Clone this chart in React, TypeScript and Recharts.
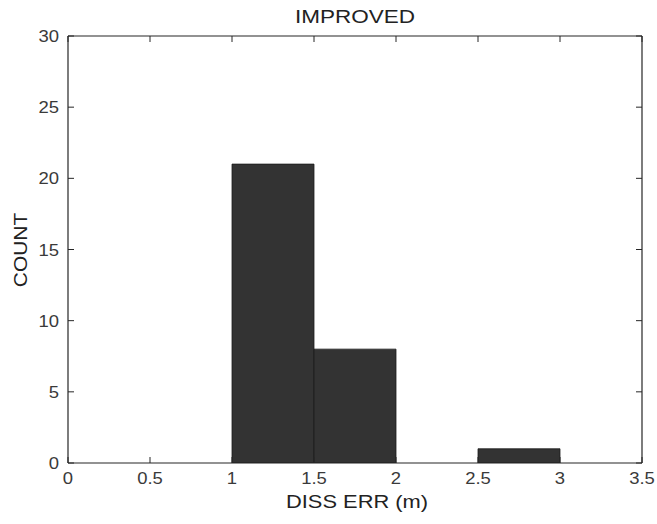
import React from "react";
import { BarChart, Bar, XAxis, YAxis } from "recharts";

// histogram bins of 0.5 m
const binLabels = ["0-0.5", "0.5-1", "1-1.5", "1.5-2", "2-2.5", "2.5-3", "3-3.5"];
const binMids = [0.25, 0.75, 1.25, 1.75, 2.25, 2.75, 3.25];
const counts = [0, 0, 21, 8, 0, 1, 0];

const xTicks = [0, 0.5, 1, 1.5, 2, 2.5, 3, 3.5];
const yTicks = [0, 5, 10, 15, 20, 25, 30];

const data = binLabels.map((bin, i) => ({ bin, mid: binMids[i], count: counts[i] }));

const AXIS = "#262626";
const TEXT = "#3a3a3a";
const FONT = "'Liberation Sans', Arial, sans-serif";

const BottomTick = (p: any) => (
  <g>
    <line x1={p.x} y1={p.y} x2={p.x} y2={p.y - 6} stroke={AXIS} strokeWidth={1} />
    <text
      transform={`translate(${p.x},${p.y + 21}) scale(1.12,1)`}
      textAnchor="middle"
      fontSize={16.5}
      fontFamily={FONT}
      fill={TEXT}
    >
      {p.payload.value}
    </text>
  </g>
);

const LeftTick = (p: any) => (
  <g>
    <line x1={p.x} y1={p.y} x2={p.x + 6} y2={p.y} stroke={AXIS} strokeWidth={1} />
    <text
      transform={`translate(${p.x - 9},${p.y + 6}) scale(1.12,1)`}
      textAnchor="end"
      fontSize={16.5}
      fontFamily={FONT}
      fill={TEXT}
    >
      {p.payload.value}
    </text>
  </g>
);

const TopTick = (p: any) => (
  <line x1={p.x} y1={p.y} x2={p.x} y2={p.y + 6} stroke={AXIS} strokeWidth={1} />
);

const RightTick = (p: any) => (
  <line x1={p.x} y1={p.y} x2={p.x - 6} y2={p.y} stroke={AXIS} strokeWidth={1} />
);

export default function App() {
  return (
    <div style={{ position: "absolute", left: 0, top: 0, width: 657, height: 524, background: "#fff" }}>
      <BarChart
        width={657}
        height={524}
        data={data}
        margin={{ top: 35, right: 14, bottom: 0, left: 0 }}
        barCategoryGap={0}
        barGap={0}
      >
        <XAxis xAxisId="bins" dataKey="bin" hide height={0} />
        <XAxis
          xAxisId="num"
          dataKey="mid"
          type="number"
          domain={[0, 3.5]}
          ticks={xTicks}
          allowDataOverflow
          height={61}
          tickSize={0}
          tickMargin={0}
          tickLine={false}
          axisLine={{ stroke: AXIS, strokeWidth: 1.2 }}
          tick={BottomTick}
          interval={0}
        />
        <XAxis
          xAxisId="top"
          dataKey="mid"
          type="number"
          orientation="top"
          domain={[0, 3.5]}
          ticks={xTicks}
          allowDataOverflow
          height={1}
          tickSize={0}
          tickMargin={0}
          tickLine={false}
          axisLine={{ stroke: AXIS, strokeWidth: 1.2 }}
          tick={TopTick}
          interval={0}
        />
        <YAxis
          yAxisId="left"
          domain={[0, 30]}
          ticks={yTicks}
          allowDataOverflow
          width={68}
          tickSize={0}
          tickMargin={0}
          tickLine={false}
          axisLine={{ stroke: AXIS, strokeWidth: 1.2 }}
          tick={LeftTick}
          interval={0}
        />
        <YAxis
          yAxisId="right"
          orientation="right"
          domain={[0, 30]}
          ticks={yTicks}
          allowDataOverflow
          width={1}
          tickSize={0}
          tickMargin={0}
          tickLine={false}
          axisLine={{ stroke: AXIS, strokeWidth: 1.2 }}
          tick={RightTick}
          interval={0}
        />
        <Bar
          xAxisId="bins"
          yAxisId="left"
          dataKey="count"
          fill="#333333"
          stroke="#1c1c1c"
          strokeWidth={0.8}
          isAnimationActive={false}
        />
      </BarChart>

      <div
        style={{
          position: "absolute",
          left: 255,
          width: 200,
          top: 7,
          textAlign: "center",
          fontFamily: FONT,
          fontSize: 18,
          color: "#222",
          transform: "scaleX(1.25)",
        }}
      >
        IMPROVED
      </div>
      <div
        style={{
          position: "absolute",
          left: 257,
          width: 200,
          top: 491,
          textAlign: "center",
          fontFamily: FONT,
          fontSize: 19,
          color: "#222",
          transform: "scaleX(1.15)",
        }}
      >
        DISS ERR (m)
      </div>
      <div
        style={{
          position: "absolute",
          left: 21 - 60,
          width: 120,
          top: 250 - 11,
          textAlign: "center",
          fontFamily: FONT,
          fontSize: 19,
          color: "#222",
          transform: "rotate(-90deg) scaleX(1.1)",
        }}
      >
        COUNT
      </div>
    </div>
  );
}
